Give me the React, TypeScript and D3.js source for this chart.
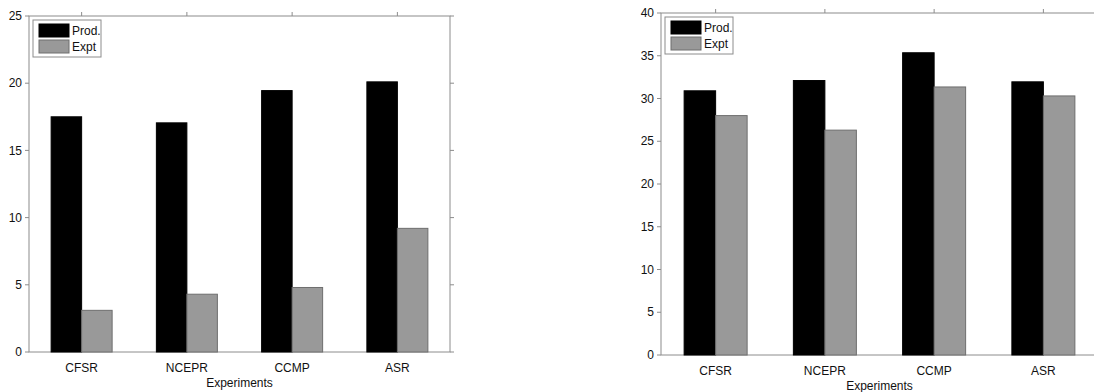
import * as d3 from 'd3';
import React from 'react';

const experiments = ['CFSR', 'NCEPR', 'CCMP', 'ASR'];
const seriesNames = ['Prod.', 'Expt'];

const leftProd = [17.5, 17.05, 19.45, 20.1];
const leftExpt = [3.1, 4.3, 4.8, 9.2];
const leftTicks = [0, 5, 10, 15, 20, 25];

const rightProd = [30.9, 32.1, 35.35, 31.95];
const rightExpt = [28.0, 26.3, 31.35, 30.3];
const rightTicks = [0, 5, 10, 15, 20, 25, 30, 35, 40];

const fills = ['#000000', '#999999'];
const strokes = ['#000000', '#6e6e6e'];
const axisColor = '#8c8c8c';
const font = '"Liberation Sans", Arial, sans-serif';

function Panel({
  x0,
  x1,
  y0,
  y1,
  yMax,
  ticks,
  prod,
  expt,
  barW,
}: {
  x0: number;
  x1: number;
  y0: number;
  y1: number;
  yMax: number;
  ticks: number[];
  prod: number[];
  expt: number[];
  barW: number;
}) {
  const x = d3.scaleBand().domain(experiments).range([x0, x1]).padding(0);
  const y = d3.scaleLinear().domain([0, yMax]).range([y1, y0]);
  const series = [prod, expt];
  const tick = 4;

  return (
    <g>
      {/* frame */}
      <rect x={x0} y={y0} width={x1 - x0} height={y1 - y0} fill="none" stroke={axisColor} strokeWidth={1} />
      {/* y ticks left & right */}
      {ticks.map(t => (
        <g key={t}>
          <line x1={x0 - tick} x2={x0} y1={y(t)} y2={y(t)} stroke={axisColor} />
          <line x1={x1} x2={x1 + tick} y1={y(t)} y2={y(t)} stroke={axisColor} />
          <text
            x={x0 - 7}
            y={y(t)}
            dy="0.35em"
            textAnchor="end"
            fontFamily={font}
            fontSize={12}
            fill="#111"
          >
            {t}
          </text>
        </g>
      ))}
      {/* top ticks */}
      {experiments.map(c => {
        const cx = (x(c) as number) + x.bandwidth() / 2;
        return <line key={c} x1={cx} x2={cx} y1={y0 - tick} y2={y0} stroke={axisColor} />;
      })}
      {/* bars */}
      {series.map((vals, si) =>
        experiments.map((c, i) => {
          const cx = (x(c) as number) + x.bandwidth() / 2;
          const bx = si === 0 ? cx - barW : cx;
          return (
            <rect
              key={c + si}
              x={bx}
              y={y(vals[i])}
              width={barW}
              height={y(0) - y(vals[i])}
              fill={fills[si]}
              stroke={strokes[si]}
              strokeWidth={1}
            />
          );
        })
      )}
      {/* x labels */}
      {experiments.map(c => (
        <text
          key={c}
          x={(x(c) as number) + x.bandwidth() / 2}
          y={y1 + 20}
          textAnchor="middle"
          fontFamily={font}
          fontSize={12}
          fill="#111"
        >
          {c}
        </text>
      ))}
      <text
        x={(x0 + x1) / 2}
        y={y1 + 35}
        textAnchor="middle"
        fontFamily={font}
        fontSize={12}
        fill="#111"
      >
        Experiments
      </text>
      {/* legend */}
      <g transform={`translate(${x0 + 4},${y0 + 4})`}>
        <rect x={0} y={0} width={68} height={37} fill="#fff" stroke={axisColor} />
        {seriesNames.map((s, i) => (
          <g key={s} transform={`translate(6,${4 + i * 16})`}>
            <rect x={0} y={0} width={30} height={13} fill={fills[i]} stroke={strokes[i]} />
            <text x={33} y={11} fontFamily={font} fontSize={12} fill="#111">
              {s}
            </text>
          </g>
        ))}
      </g>
    </g>
  );
}

export default function App() {
  return (
    <svg
      width={1094}
      height={392}
      style={{ position: 'absolute', left: 0, top: 0, background: '#fff' }}
    >
      <Panel x0={29} x1={450} y0={16} y1={352} yMax={25} ticks={leftTicks} prod={leftProd} expt={leftExpt} barW={30.5} />
      <Panel x0={661} x1={1098} y0={13} y1={355} yMax={40} ticks={rightTicks} prod={rightProd} expt={rightExpt} barW={31.5} />
    </svg>
  );
}
